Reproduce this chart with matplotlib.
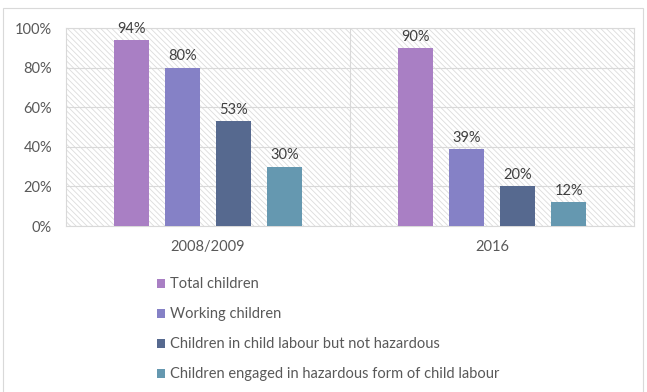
import matplotlib.pyplot as plt
import numpy as np
from matplotlib.patches import Patch, Rectangle

plt.rcParams['font.family'] = ['Lato', 'DejaVu Sans']
plt.rcParams['hatch.color'] = '#dcdcdc'
plt.rcParams['hatch.linewidth'] = 0.6

years = ['2008/2009', '2016']
series = ['Total children',
          'Working children',
          'Children in child labour but not hazardous',
          'Children engaged in hazardous form of child labour']
values = [[94, 90], [80, 39], [53, 20], [30, 12]]
colors = ['#a97fc4', '#8581c6', '#56698f', '#6598b0']

fig = plt.figure(figsize=(6.47, 3.92), dpi=100)
# thin outer frame
fig.patches.append(Rectangle((3 / 647, -0.1), 640 / 647, 1.1 - 8 / 392,
                             transform=fig.transFigure, fill=False,
                             edgecolor='#d9d9d9', linewidth=0.8))

ax = fig.add_axes([66 / 647, 1 - 226 / 392, 568 / 647, 198 / 392])
# hatched plot background
ax.add_patch(Rectangle((0, 0), 1, 1, transform=ax.transAxes, facecolor='white',
                       hatch='\\' * 6, edgecolor='#dcdcdc', linewidth=0, zorder=0))

x = np.arange(len(years))
step, width = 0.18, 0.123
for i, (name, vals, c) in enumerate(zip(series, values, colors)):
    bars = ax.bar(x + (i - 1.5) * step, vals, width, color=c, label=name, zorder=3)
    ax.bar_label(bars, labels=[f'{v}%' for v in vals], padding=3,
                 fontsize=10.5, color='#404040')

ax.set_xlim(-0.5, 1.5)
ax.set_ylim(0, 100)
ax.set_yticks(range(0, 101, 20))
ax.set_yticklabels([f'{t}%' for t in range(0, 101, 20)])
ax.set_xticks(x)
ax.set_xticklabels(years)
ax.tick_params(length=0, labelsize=10.5, labelcolor='#595959')
ax.tick_params(axis='x', pad=10)
ax.tick_params(axis='y', pad=10)
ax.grid(axis='y', color='#d9d9d9', linewidth=0.8, zorder=1)
ax.axvline(0.5, color='#d9d9d9', linewidth=0.8, zorder=1)
for s in ax.spines.values():
    s.set_color('#d9d9d9')
    s.set_linewidth(0.8)

handles = [Patch(facecolor=c, edgecolor='none') for c in colors]
fig.legend(handles, series, loc='upper left', bbox_to_anchor=(150 / 647, 1 - 270 / 392),
           frameon=False, fontsize=10.5, labelcolor='#595959', handlelength=0.55,
           handleheight=0.55, handletextpad=0.3, labelspacing=1.1, borderpad=0)

fig.savefig('out.png', dpi=100)
